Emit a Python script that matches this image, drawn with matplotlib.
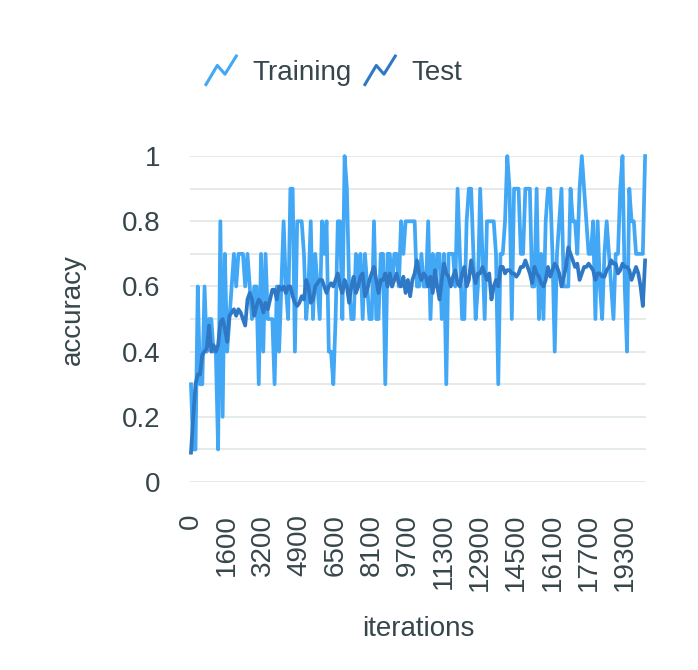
import numpy as np
import matplotlib

matplotlib.use("Agg")
import matplotlib.pyplot as plt  # noqa: E402
from matplotlib.legend_handler import HandlerBase  # noqa: E402
from matplotlib.lines import Line2D  # noqa: E402

plt.rcParams["font.family"] = ["Liberation Sans", "DejaVu Sans"]

# logged iterations (one value missing around 4800)
iterations = list(range(0, 4800, 100)) + list(range(4900, 20300, 100))

training = [
    0.3, 0.1, 0.1, 0.6, 0.3, 0.3, 0.6, 0.4, 0.5, 0.5, 0.4, 0.4, 0.1, 0.8, 0.2, 0.7,
    0.4, 0.5, 0.6, 0.7, 0.6, 0.7, 0.7, 0.7, 0.6, 0.7, 0.6, 0.5, 0.6, 0.6, 0.3, 0.7,
    0.4, 0.7, 0.5, 0.5, 0.5, 0.3, 0.6, 0.4, 0.6, 0.8, 0.6, 0.5, 0.9, 0.9, 0.4, 0.8,
    0.8, 0.8, 0.7, 0.5, 0.6, 0.8, 0.5, 0.7, 0.6, 0.5, 0.8, 0.7, 0.8, 0.4, 0.4, 0.3,
    0.5, 0.8, 0.8, 0.5, 1.0, 0.9, 0.6, 0.5, 0.5, 0.7, 0.6, 0.7, 0.5, 0.7, 0.6, 0.5,
    0.5, 0.8, 0.5, 0.5, 0.7, 0.7, 0.3, 0.7, 0.7, 0.6, 0.7, 0.7, 0.6, 0.8, 0.7, 0.8,
    0.8, 0.8, 0.8, 0.8, 0.6, 0.6, 0.7, 0.6, 0.6, 0.8, 0.5, 0.7, 0.6, 0.7, 0.7, 0.5,
    0.7, 0.3, 0.7, 0.7, 0.7, 0.6, 0.9, 0.7, 0.5, 0.5, 0.8, 0.9, 0.9, 0.7, 0.5, 0.6,
    0.9, 0.7, 0.5, 0.8, 0.8, 0.8, 0.8, 0.7, 0.3, 0.7, 0.7, 0.8, 1.0, 0.9, 0.5, 0.9,
    0.9, 0.9, 0.7, 0.7, 0.9, 0.9, 0.9, 0.6, 0.6, 0.9, 0.5, 0.7, 0.5, 0.8, 0.9, 0.9,
    0.7, 0.4, 0.7, 0.8, 0.9, 0.6, 0.6, 0.6, 0.9, 0.8, 0.8, 0.7, 0.9, 1.0, 0.9, 0.8,
    0.7, 0.7, 0.8, 0.5, 0.8, 0.6, 0.5, 0.7, 0.8, 0.7, 0.6, 0.5, 0.7, 0.7, 0.9, 1.0,
    0.6, 0.4, 0.9, 0.8, 0.8, 0.7, 0.7, 0.7, 0.7, 1.0,
]

test = [
    0.09, 0.2, 0.3, 0.33, 0.33, 0.39, 0.4, 0.41, 0.48, 0.4, 0.42, 0.4, 0.42, 0.49, 0.5, 0.47,
    0.43, 0.51, 0.52, 0.53, 0.51, 0.53, 0.52, 0.5, 0.48, 0.56, 0.58, 0.56, 0.51, 0.54, 0.56, 0.55,
    0.52, 0.55, 0.53, 0.56, 0.59, 0.59, 0.56, 0.6, 0.59, 0.6, 0.58, 0.6, 0.6, 0.57, 0.55, 0.54,
    0.55, 0.57, 0.56, 0.62, 0.6, 0.55, 0.56, 0.6, 0.61, 0.62, 0.62, 0.6, 0.58, 0.6, 0.61, 0.6,
    0.62, 0.64, 0.6, 0.58, 0.62, 0.6, 0.55, 0.6, 0.63, 0.58, 0.6, 0.63, 0.64, 0.57, 0.59, 0.62,
    0.64, 0.66, 0.62, 0.58, 0.62, 0.62, 0.64, 0.6, 0.64, 0.6, 0.62, 0.64, 0.61, 0.6, 0.63, 0.58,
    0.62, 0.57, 0.62, 0.64, 0.68, 0.64, 0.62, 0.64, 0.63, 0.6, 0.63, 0.58, 0.65, 0.6, 0.56, 0.62,
    0.67, 0.64, 0.63, 0.6, 0.63, 0.65, 0.61, 0.6, 0.64, 0.66, 0.6, 0.62, 0.68, 0.64, 0.61, 0.64,
    0.64, 0.66, 0.64, 0.62, 0.64, 0.56, 0.6, 0.62, 0.6, 0.66, 0.66, 0.64, 0.65, 0.65, 0.64, 0.64,
    0.63, 0.64, 0.66, 0.66, 0.68, 0.66, 0.64, 0.61, 0.66, 0.64, 0.63, 0.61, 0.6, 0.62, 0.66, 0.63,
    0.65, 0.67, 0.66, 0.64, 0.6, 0.63, 0.66, 0.72, 0.7, 0.68, 0.66, 0.67, 0.62, 0.64, 0.66, 0.66,
    0.67, 0.66, 0.65, 0.62, 0.64, 0.64, 0.63, 0.63, 0.65, 0.66, 0.68, 0.67, 0.67, 0.64, 0.65, 0.67,
    0.66, 0.66, 0.65, 0.62, 0.64, 0.66, 0.64, 0.6, 0.54, 0.68,
]

TRAIN_C = "#42a8f6"
TEST_C = "#2f78c6"
TEXT_C = "#37464a"
GRID_C = "#e0e8e8"
FS = 20


class ZigZag(HandlerBase):
    # legend icon: small zigzag line like the original
    def create_artists(self, legend, orig, xd, yd, w, h, fontsize, trans):
        xs = np.array([0.0, 0.38, 0.62, 1.0]) * w - xd
        ys = (np.array([-0.3, 0.75, 0.3, 1.3])) * h - yd
        ln = Line2D(xs, ys, color=orig.get_color(), lw=2.2, solid_capstyle="butt")
        ln.set_transform(trans)
        return [ln]


fig = plt.figure(figsize=(6.98, 6.70), dpi=100)
ax = fig.add_axes([0.272, 0.2806, 0.6535, 0.4864])

x = np.arange(len(iterations))
l1, = ax.plot(x, training, color=TRAIN_C, lw=2.7, label="Training", clip_on=False, zorder=3)
l2, = ax.plot(x, test, color=TEST_C, lw=2.7, label="Test", clip_on=False, zorder=4)

ax.set_xlim(-0.5, len(iterations) - 0.6)
ax.set_ylim(0, 1)
ax.set_yticks(np.arange(0, 1.01, 0.1), minor=True)
ax.set_yticks([0, 0.2, 0.4, 0.6, 0.8, 1.0])
ax.set_yticklabels(["0", "0.2", "0.4", "0.6", "0.8", "1"])
ax.grid(True, axis="y", which="both", color=GRID_C, lw=1.2)
ax.set_axisbelow(True)

ticks = x[::16]
ax.set_xticks(ticks)
ax.set_xticklabels([str(iterations[i]) for i in ticks], rotation=90)

for s in ax.spines.values():
    s.set_visible(False)
ax.tick_params(axis="both", which="both", length=0, colors=TEXT_C, labelsize=FS)
ax.tick_params(axis="y", pad=21)
ax.tick_params(axis="x", pad=23)

ax.set_xlabel("iterations", fontsize=FS, color=TEXT_C, labelpad=18)
ax.set_ylabel("accuracy", fontsize=FS, color=TEXT_C)
ax.yaxis.set_label_coords(-0.228, 0.528)

fig.legend(
    handles=[l1, l2], loc="center", bbox_to_anchor=(0.478, 0.891), ncol=2,
    frameon=False, fontsize=FS, labelcolor=TEXT_C,
    handler_map={Line2D: ZigZag()}, handlelength=1.15, handletextpad=0.55,
    columnspacing=0.45,
)

fig.savefig("out.png", dpi=100)
plt.close(fig)
